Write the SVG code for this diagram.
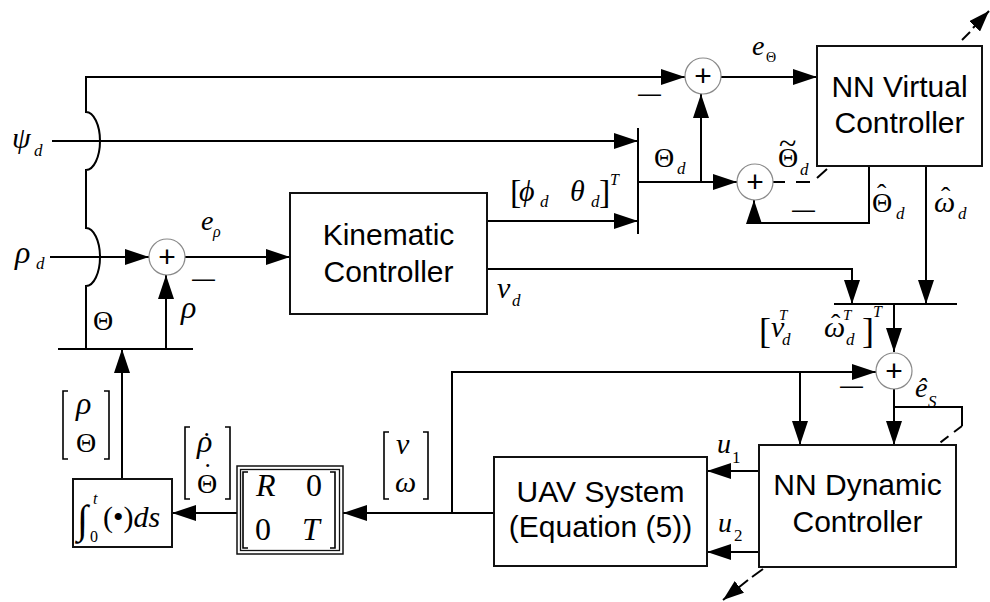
<svg xmlns="http://www.w3.org/2000/svg" width="990" height="602" viewBox="0 0 990 602">
<style>
.ln{fill:none;stroke:#000;stroke-width:2}
.thin{fill:none;stroke:#000;stroke-width:1.6}
.box{fill:#fff;stroke:#111;stroke-width:2}
.sum{fill:#fff;stroke:#8a8a8a;stroke-width:1.2}
.lbl{font-family:"Liberation Sans",Arial,sans-serif;font-size:30px;text-anchor:middle;fill:#000}
.plus{font-family:"Liberation Sans",Arial,sans-serif;font-size:30px;text-anchor:middle;fill:#000}
.mi{font-family:"Liberation Sans",Arial,sans-serif;font-size:23px;fill:#000}
.m{font-family:"Liberation Serif","Times New Roman",serif;font-style:italic;font-size:30px;fill:#000}
.u{font-family:"Liberation Serif","Times New Roman",serif;font-style:normal;font-size:28px;fill:#000}
.s{font-size:17px}
.ac{font-style:normal;font-size:28px}
</style>
<defs>
<marker id="ar" markerUnits="userSpaceOnUse" markerWidth="24" markerHeight="16" refX="24" refY="8" orient="auto">
<path d="M0,0 L24,8 L0,16 Z" fill="#000"/>
</marker>
<marker id="ars" markerUnits="userSpaceOnUse" markerWidth="21" markerHeight="15" refX="21" refY="7.5" orient="auto">
<path d="M0,0 L21,7.5 L0,15 Z" fill="#000"/>
</marker>
</defs>

<g id="connectors">
<path class="ln" d="M86,349 V286 A14,29 0 0 0 86,228 V170 A14,29 0 0 0 86,112 V77 H685" marker-end="url(#ar)"/>
<path class="ln" d="M52,141 H638" marker-end="url(#ar)"/>
<path class="ln" d="M50,257 H149" marker-end="url(#ar)"/>
<path class="ln" d="M185,257 H290" marker-end="url(#ar)"/>
<path class="ln" d="M58,349 H193"/>
<path class="ln" d="M166,349 V275" marker-end="url(#ar)"/>
<path class="ln" d="M122,479 V349" marker-end="url(#ar)"/>
<path class="ln" d="M237,513 H172" marker-end="url(#ar)"/>
<path class="ln" d="M494,513 H343" marker-end="url(#ar)"/>
<path class="ln" d="M452,513 V372 H876" marker-end="url(#ar)"/>
<path class="ln" d="M800,372 V445" marker-end="url(#ar)"/>
<path class="ln" d="M894,389 V445" marker-end="url(#ar)"/>
<path class="ln" d="M894,407 H962 V426"/>
<path class="ln" d="M962,426 L937,445" stroke-dasharray="10,7"/>
<path class="ln" d="M759,471 H707" marker-end="url(#ar)"/>
<path class="ln" d="M759,552 H707" marker-end="url(#ar)"/>
<path class="ln" d="M487,221 H638" marker-end="url(#ar)"/>
<path class="ln" d="M487,269 H852 V304" marker-end="url(#ar)"/>
<path class="ln" d="M638,128 V234"/>
<path class="ln" d="M638,182 H737" marker-end="url(#ar)"/>
<path class="ln" d="M701,182 V94" marker-end="url(#ar)"/>
<path class="ln" d="M721,77 H817" marker-end="url(#ar)"/>
<path class="ln" d="M869,166 V223 H754 V200" marker-end="url(#ar)"/>
<path class="ln" d="M926,166 V304" marker-end="url(#ar)"/>
<path class="ln" d="M834,304 H957"/>
<path class="ln" d="M894,304 V352" marker-end="url(#ar)"/>
<path class="ln" d="M773,182 H785 M796,182 H810 M817,178 L827,169"/>
<path class="ln" d="M962,40 L970,32"/>
<path class="ln" d="M973,28 L989,11" marker-end="url(#ars)"/>
<path class="ln" d="M763,569 L752,577"/>
<path class="ln" d="M748,580 L723,600" marker-end="url(#ars)"/>
</g>

<g id="sum0"><circle class="sum" cx="167" cy="257" r="18"/><text class="plus" x="167" y="267">+</text></g>
<g id="sum1"><circle class="sum" cx="703" cy="76" r="18"/><text class="plus" x="703" y="86">+</text></g>
<g id="sum2"><circle class="sum" cx="755" cy="182" r="18"/><text class="plus" x="755" y="192">+</text></g>
<g id="sum3"><circle class="sum" cx="894" cy="371" r="18"/><text class="plus" x="894" y="381">+</text></g>

<g id="kinematic"><rect class="box" x="290" y="193" width="197" height="121"/>
<text class="lbl" x="388.5" y="245">Kinematic</text><text class="lbl" x="388.5" y="282">Controller</text></g>
<g id="nnvirtual"><rect class="box" x="817" y="46" width="165" height="120"/>
<text class="lbl" x="899.5" y="97">NN Virtual</text><text class="lbl" x="899.5" y="133">Controller</text></g>
<g id="nndynamic"><rect class="box" x="759" y="445" width="197" height="122"/>
<text class="lbl" x="857.5" y="495">NN Dynamic</text><text class="lbl" x="857.5" y="532">Controller</text></g>
<g id="uav"><rect class="box" x="494" y="457" width="213" height="109"/>
<text class="lbl" x="600.5" y="502">UAV System</text><text class="lbl" x="600.5" y="537">(Equation (5))</text></g>
<g id="integral"><rect class="box" x="73" y="479" width="99" height="68"/>
<text class="u" x="77" y="533" style="font-size:40px">∫<tspan class="m" x="93" y="504" style="font-size:16px">t</tspan><tspan x="90" y="542" style="font-size:16px">0</tspan><tspan x="103" y="527" style="font-size:30px">(•)</tspan><tspan class="m">ds</tspan></text></g>
<g id="rtmatrix"><rect class="box" x="237" y="466" width="106" height="88" style="stroke-width:1.5"/>
<rect class="box" x="240.5" y="469.5" width="99" height="81" style="stroke-width:1.3"/>
<path class="thin" d="M248,472 H243 V548 H248 M330,472 H335 V548 H330"/>
<text class="u" x="256" y="496" style="font-size:32px"><tspan class="m" style="font-size:32px">R</tspan><tspan x="306" y="496">0</tspan><tspan x="255" y="540">0</tspan><tspan class="m" x="302" y="540" style="font-size:32px">T</tspan></text></g>

<g id="labels">
<text class="m" x="12" y="148">ψ<tspan class="s" x="34" y="156">d</tspan></text>
<text class="m" x="15" y="263" style="font-size:32px">ρ<tspan class="s" x="36" y="269">d</tspan></text>
<text class="m" x="201" y="230" style="font-size:28px">e<tspan x="213" y="237" style="font-size:16px">ρ</tspan></text>
<text class="mi" x="192" y="286">—</text>
<text class="mi" x="638" y="101">—</text>
<text class="mi" x="792" y="217">—</text>
<text class="mi" x="840" y="393">—</text>
<text class="u" x="93" y="330">Θ</text>
<text class="m" x="181" y="318" style="font-size:32px">ρ</text>
<path class="thin" d="M68,391 H63 V459 H68 M104,391 H109 V459 H104"/>
<text class="m" x="76" y="414" style="font-size:32px">ρ<tspan class="u" x="76" y="452">Θ</tspan></text>
<path class="thin" d="M190,427 H185 V499 H190 M225,427 H230 V499 H225"/>
<text class="m" x="197" y="452" style="font-size:32px">ρ<tspan class="ac" x="202" y="451">˙</tspan><tspan class="u" x="197" y="493">Θ</tspan><tspan class="ac" x="203" y="482">˙</tspan></text>
<path class="thin" d="M389,432 H384 V499 H389 M423,432 H428 V499 H423"/>
<text class="m" x="396" y="454">v<tspan x="395" y="492">ω</tspan></text>
<text class="m" x="752" y="55" style="font-size:28px">e<tspan class="u" x="766" y="62" style="font-size:14px">Θ</tspan></text>
<text class="u" x="654" y="167">Θ<tspan class="m s" x="677" y="174">d</tspan></text>
<text class="u" x="510" y="203" style="font-size:34px">[<tspan class="m" x="519" y="201">ϕ</tspan><tspan class="m s" x="540" y="207">d</tspan><tspan class="m" x="570" y="201">θ</tspan><tspan class="m s" x="591" y="207">d</tspan><tspan x="599" y="203" style="font-size:34px">]</tspan><tspan class="m" x="610" y="185" style="font-size:16px">T</tspan></text>
<text class="u" x="778" y="167">Θ<tspan x="779" y="154" style="font-size:32px">~</tspan><tspan class="m s" x="800" y="175">d</tspan></text>
<text class="u" x="872" y="212">Θ<tspan class="ac" x="877" y="203">ˆ</tspan><tspan class="m s" x="896" y="219">d</tspan></text>
<text class="m" x="934" y="212">ω<tspan class="ac" x="941" y="206">ˆ</tspan><tspan class="s" x="958" y="219">d</tspan></text>
<text class="m" x="497" y="298">v<tspan class="s" x="512" y="306">d</tspan></text>
<text class="u" x="759" y="343" style="font-size:36px">[<tspan class="m" x="771" y="337">v</tspan><tspan class="m" x="779" y="320" style="font-size:15px">T</tspan><tspan class="m s" x="782" y="345">d</tspan><tspan class="m" x="824" y="337">ω</tspan><tspan class="ac" x="831" y="333">ˆ</tspan><tspan class="m" x="843" y="320" style="font-size:15px">T</tspan><tspan class="m s" x="846" y="345">d</tspan><tspan x="862" y="343" style="font-size:36px">]</tspan><tspan class="m" x="873" y="317" style="font-size:16px">T</tspan></text>
<text class="m" x="915" y="397" style="font-size:28px">ê<tspan class="s" x="928" y="407">S</tspan></text>
<text class="m" x="717" y="453" style="font-size:28px">u<tspan class="u" x="732" y="463" style="font-size:17px">1</tspan></text>
<text class="m" x="718" y="532" style="font-size:28px">u<tspan class="u" x="734" y="541" style="font-size:17px">2</tspan></text>
</g>
</svg>
